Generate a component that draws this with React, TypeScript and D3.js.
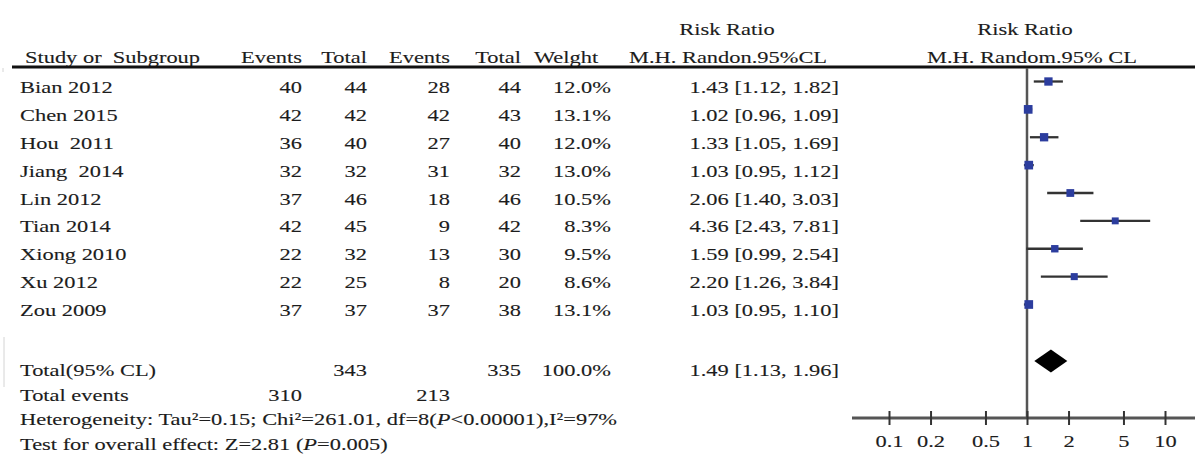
import React, { useRef, useEffect } from "react";
import * as d3 from "d3";

// study rows
const studies = ["Bian 2012", "Chen 2015", "Hou  2011", "Jiang  2014", "Lin 2012", "Tian 2014", "Xiong 2010", "Xu 2012", "Zou 2009"];
const expEvents = [40, 42, 36, 32, 37, 42, 22, 22, 37];
const expTotal = [44, 42, 40, 32, 46, 45, 32, 25, 37];
const ctlEvents = [28, 42, 27, 31, 18, 9, 13, 8, 37];
const ctlTotal = [44, 43, 40, 32, 46, 42, 30, 20, 38];
const weights = [12.0, 13.1, 12.0, 13.0, 10.5, 8.3, 9.5, 8.6, 13.1];
const rr = [1.43, 1.02, 1.33, 1.03, 2.06, 4.36, 1.59, 2.2, 1.03];
const lower = [1.12, 0.96, 1.05, 0.95, 1.4, 2.43, 0.99, 1.26, 0.95];
const upper = [1.82, 1.09, 1.69, 1.12, 3.03, 7.81, 2.54, 3.84, 1.1];

// pooled result
const pooled = [1.49, 1.13, 1.96];
const pooledTotals = [343, 335];
const pooledEvents = [310, 213];

const tickValues = [0.1, 0.2, 0.5, 1, 2, 5, 10];

const App = () => {
  const svgRef = useRef(null);

  useEffect(() => {
    const width = 1195;
    const height = 464;
    const SX = 1.32; // glyphs in the scan are stretched horizontally
    const ink = "#1c1c1c";
    const font = "'Liberation Serif', 'Times New Roman', serif";

    const svg = d3.select(svgRef.current);
    svg.selectAll("*").remove();
    svg.attr("width", width).attr("height", height);

    const x = d3.scaleLog().domain([0.1, 10]).range([889, 1165]);
    const yRow = d3.scaleLinear().domain([0, 8]).range([93, 316]);
    const ySum = d3.scaleLinear().domain([0, 3]).range([376, 450]);
    const axisY = 418;

    const col = { ev1: 302, tot1: 367, ev2: 450, tot2: 521, weight: 611, rr: 839 };

    const txt = (g, px, py, s, anchor = "start") =>
      g
        .append("text")
        .attr("transform", `translate(${px},${py}) scale(${SX},1)`)
        .attr("text-anchor", anchor)
        .attr("font-family", font)
        .attr("font-size", 17)
        .attr("fill", ink)
        .attr("stroke", ink)
        .attr("stroke-width", 0.12)
        .style("white-space", "pre")
        .text(s);

    const g = svg.append("g");

    // headers
    txt(g, 25, 63, "Study or  Subgroup");
    txt(g, col.ev1, 63, "Events", "end");
    txt(g, col.tot1, 63, "Total", "end");
    txt(g, col.ev2, 63, "Events", "end");
    txt(g, col.tot2, 63, "Total", "end");
    txt(g, 534, 63, "Welght");
    txt(g, 727, 35, "Risk Ratio", "middle");
    txt(g, 728, 63, "M.H. Randon.95%CL", "middle");
    txt(g, 1025, 35, "Risk Ratio", "middle");
    txt(g, 1032, 63, "M.H. Random.95% CL", "middle");

    g.append("line")
      .attr("x1", 12).attr("x2", width)
      .attr("y1", 67).attr("y2", 67)
      .attr("stroke", "#111").attr("stroke-width", 3);

    // scan artefacts on left edge
    g.append("line")
      .attr("x1", 4).attr("x2", 4).attr("y1", 337).attr("y2", 387)
      .attr("stroke", "#d4d4d4").attr("stroke-width", 1);
    g.append("line")
      .attr("x1", 3).attr("x2", 3).attr("y1", 68).attr("y2", 72)
      .attr("stroke", "#d4d4d4").attr("stroke-width", 1);

    // study rows
    studies.forEach((s, i) => {
      const y = yRow(i);
      txt(g, 20, y, s);
      txt(g, col.ev1, y, String(expEvents[i]), "end");
      txt(g, col.tot1, y, String(expTotal[i]), "end");
      txt(g, col.ev2, y, String(ctlEvents[i]), "end");
      txt(g, col.tot2, y, String(ctlTotal[i]), "end");
      txt(g, col.weight, y, weights[i].toFixed(1) + "%", "end");
      txt(g, col.rr, y, `${rr[i].toFixed(2)} [${lower[i].toFixed(2)}, ${upper[i].toFixed(2)}]`, "end");
    });

    // summary rows
    txt(g, 20, ySum(0), "Total(95% CL)");
    txt(g, col.tot1, ySum(0), String(pooledTotals[0]), "end");
    txt(g, col.tot2, ySum(0), String(pooledTotals[1]), "end");
    txt(g, col.weight, ySum(0), "100.0%", "end");
    txt(g, col.rr, ySum(0), `${pooled[0].toFixed(2)} [${pooled[1].toFixed(2)}, ${pooled[2].toFixed(2)}]`, "end");

    txt(g, 20, ySum(1), "Total events");
    txt(g, col.ev1, ySum(1), String(pooledEvents[0]), "end");
    txt(g, col.ev2, ySum(1), String(pooledEvents[1]), "end");

    const het = txt(g, 20, ySum(2), "");
    het.append("tspan").text("Heterogeneity: Tau\u00b2=0.15; Chi\u00b2=261.01, df=8(");
    het.append("tspan").attr("font-style", "italic").text("P");
    het.append("tspan").text("<0.00001),I\u00b2=97%");

    const test = txt(g, 20, ySum(3), "");
    test.append("tspan").text("Test for overall effect: Z=2.81 (");
    test.append("tspan").attr("font-style", "italic").text("P");
    test.append("tspan").text("=0.005)");

    // forest plot: line of no effect
    g.append("line")
      .attr("x1", x(1)).attr("x2", x(1))
      .attr("y1", 68).attr("y2", axisY)
      .attr("stroke", "#555").attr("stroke-width", 2.5);

    // confidence intervals + weighted squares
    const mk = g.append("g");
    studies.forEach((s, i) => {
      const y = yRow(i) - 11.5;
      mk.append("line")
        .attr("x1", x(lower[i])).attr("x2", x(upper[i]))
        .attr("y1", y).attr("y2", y)
        .attr("stroke", "#333").attr("stroke-width", 2.3);
      const side = 2.4 * Math.sqrt(weights[i]);
      mk.append("rect")
        .attr("x", x(rr[i]) - side / 2).attr("y", y - side / 2)
        .attr("width", side).attr("height", side)
        .attr("fill", "#2c3d9e");
    });

    // pooled diamond
    const dy = ySum(0) - 15;
    g.append("path")
      .attr("d", `M${x(pooled[1])},${dy} L${x(pooled[0])},${dy - 11.5} L${x(pooled[2])},${dy} L${x(pooled[0])},${dy + 11.5} Z`)
      .attr("fill", "#000");

    // axis
    g.append("line")
      .attr("x1", 852).attr("x2", width)
      .attr("y1", axisY).attr("y2", axisY)
      .attr("stroke", "#555").attr("stroke-width", 3);

    const ax = g
      .append("g")
      .attr("transform", `translate(0,${axisY})`)
      .call(d3.axisBottom(x).tickValues(tickValues).tickFormat((d) => String(d)).tickSize(0).tickPadding(0));
    ax.select(".domain").remove();
    ax.selectAll(".tick line").attr("y1", -7).attr("y2", 7).attr("stroke", "#333").attr("stroke-width", 2);
    ax.selectAll(".tick text")
      .attr("y", 29)
      .attr("dy", null)
      .attr("transform", `scale(${SX},1)`)
      .attr("font-family", font)
      .attr("font-size", 17)
      .attr("fill", ink)
      .attr("stroke", ink)
      .attr("stroke-width", 0.12);
  }, []);

  return (
    <div style={{ position: "absolute", left: 0, top: 0, background: "#fff" }}>
      <svg ref={svgRef} style={{ display: "block" }}></svg>
    </div>
  );
};

export default App;
